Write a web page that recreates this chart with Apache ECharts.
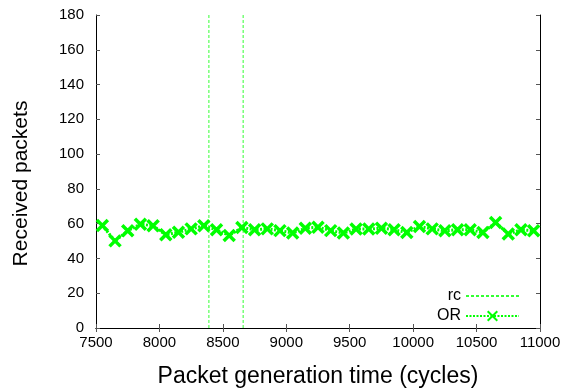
<!DOCTYPE html>
<html>
<head>
<meta charset="utf-8">
<script src="https://cdn.jsdelivr.net/npm/echarts@6/dist/echarts.min.js"></script>
<style>html,body{margin:0;padding:0;background:#fff;}#c{width:571px;height:392px;}</style>
</head>
<body>
<div id="c"></div>
<script>
var xTimes = [7550,7650,7750,7850,7950,8050,8150,8250,8350,8450,8550,8650,8750,8850,8950,9050,9150,9250,9350,9450,9550,9650,9750,9850,9950,10050,10150,10250,10350,10450,10550,10650,10750,10850,10950];
var orValues = [58.9,50.1,55.9,59.7,58.8,53.6,55.1,57.0,58.8,56.5,53.2,57.8,56.5,57.0,56.0,54.6,57.4,58.0,56.0,54.6,56.9,56.9,57.4,56.5,54.9,58.4,57.0,55.9,56.5,56.5,54.9,60.7,54.1,56.5,55.9];
var rcTimes = [8390, 8660];
var xTicks = [7500,8000,8500,9000,9500,10000,10500,11000];
var yTicks = [0,20,40,60,80,100,120,140,160,180];

var xPath = 'path://M0,0 L10,10 M10,0 L0,10';
var font = 'Liberation Sans, Arial, sans-serif';
var yMin = yTicks[0], yMax = yTicks[yTicks.length-1];
var rcData = [];
rcTimes.forEach(function(t, i){
  if (i > 0) rcData.push([t, '-']);
  rcData.push([t, yMin]); rcData.push([t, yMax]);
});
var chart = echarts.init(document.getElementById('c'), null, {renderer:'canvas'});
var baseAxisX = {
  type:'value', min:xTicks[0], max:xTicks[xTicks.length-1], interval:500,
  axisLine:{show:true,lineStyle:{color:'#000',width:1}},
  axisTick:{show:true,inside:true,length:4,lineStyle:{color:'#555'}},
  splitLine:{show:false}
};
var baseAxisY = {
  type:'value', min:yMin, max:yMax, interval:20,
  axisLine:{show:true,lineStyle:{color:'#000',width:1}},
  axisTick:{show:true,inside:true,length:4,lineStyle:{color:'#555'}},
  splitLine:{show:false}
};
chart.setOption({
  animation:false,
  backgroundColor:'#fff',
  grid:{left:96,right:31,top:15,bottom:64,containLabel:false,outerBoundsMode:'none'},
  legend:{
    right:46, top:283, orient:'vertical', align:'right', itemGap:4,
    itemWidth:53, itemHeight:12,
    textStyle:{fontFamily:font,fontSize:16,color:'#000'},
    data:[{name:'rc', itemStyle:{opacity:0}}, {name:'OR'}]
  },
  xAxis:[
    Object.assign({}, baseAxisX, {position:'bottom',
      name:'Packet generation time (cycles)', nameLocation:'middle', nameGap:37,
      nameTextStyle:{fontFamily:font,fontSize:23,color:'#000'},
      axisLabel:{fontFamily:font,fontSize:15,color:'#000',margin:7,
        formatter:function(v){return String(v);}}}),
    Object.assign({}, baseAxisX, {position:'top', axisLabel:{show:false}})
  ],
  yAxis:[
    Object.assign({}, baseAxisY, {position:'left',
      name:'Received packets', nameLocation:'middle', nameGap:64,
      nameTextStyle:{fontFamily:font,fontSize:21,color:'#000',padding:[0,24,0,0]},
      axisLabel:{fontFamily:font,fontSize:15,color:'#000',margin:12}}),
    Object.assign({}, baseAxisY, {position:'right', axisLabel:{show:false}})
  ],
  series:[
    {
      name:'rc', type:'line', data:rcData, symbol:'none', showSymbol:false,
      connectNulls:false,
      itemStyle:{color:'#33ff33'},
      lineStyle:{color:'#33ff33',width:1,type:[3,2]}
    },
    {
      name:'OR', type:'line',
      data: xTimes.map(function(t,i){return [t, orValues[i]];}),
      symbol:xPath, symbolSize:11, showSymbol:true,
      itemStyle:{color:'#00ff00', borderColor:'#00ff00', borderWidth:3.5},
      lineStyle:{color:'#00ff00', width:3, type:[2,1.5]}
    }
  ]
});
</script>
</body>
</html>
